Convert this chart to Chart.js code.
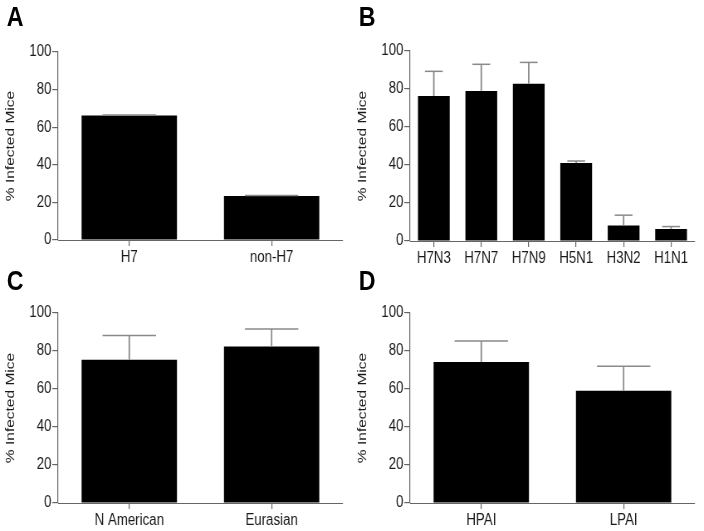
<!DOCTYPE html>
<html>
<head>
<meta charset="utf-8">
<script src="https://cdn.jsdelivr.net/npm/chart.js@4.4.1/dist/chart.umd.min.js"></script>
<style>
  body { margin: 0; background: #fff; }
  #wrap { position: relative; width: 704px; height: 531px; overflow: hidden; }
  /* the source figure is squeezed horizontally, so each panel is drawn wide and scaled */
  .panel { position: absolute; width: 424px; transform: scaleX(0.83); transform-origin: 0 0; }
  .panel canvas { position: absolute; left: 0; top: 0; }
  .tag { position: absolute; left: 8px; font: bold 28px "Liberation Sans", Arial, sans-serif; line-height: 28px; color: #000; }
</style>
</head>
<body>
<div id="wrap">
  <div class="panel" style="left:0;top:0;height:265px">
    <canvas id="cA" width="424" height="265"></canvas>
    <div class="tag" style="top:3px">A</div>
  </div>
  <div class="panel" style="left:352px;top:0;height:265px">
    <canvas id="cB" width="424" height="265"></canvas>
    <div class="tag" style="top:3px">B</div>
  </div>
  <div class="panel" style="left:0;top:265px;height:266px">
    <canvas id="cC" width="424" height="266"></canvas>
    <div class="tag" style="top:2px">C</div>
  </div>
  <div class="panel" style="left:352px;top:265px;height:266px">
    <canvas id="cD" width="424" height="266"></canvas>
    <div class="tag" style="top:2px">D</div>
  </div>
</div>
<script>
// panel A: H7 vs non-H7
const labelsA = ["H7", "non-H7"];
const valuesA = [66.2, 23.4];
const errorsA = [0.3, 0.3];

// panel B: subtypes
const labelsB = ["H7N3", "H7N7", "H7N9", "H5N1", "H3N2", "H1N1"];
const valuesB = [76.3, 79.0, 82.8, 41.0, 8.2, 6.3];
const errorsB = [13.0, 14.0, 11.2, 1.1, 5.4, 1.3];

// panel C: lineage
const labelsC = ["N American", "Eurasian"];
const valuesC = [75.4, 82.4];
const errorsC = [12.7, 9.2];

// panel D: pathogenicity
const labelsD = ["HPAI", "LPAI"];
const valuesD = [74.2, 59.1];
const errorsD = [11.1, 12.9];

const yTicks = [0, 20, 40, 60, 80, 100];

const FONT = "'Liberation Sans', Arial, sans-serif";
const AXIS = "#666";
const TEXT = "#1a1a1a";

// draws the upward error bars on top of each bar
const errorBars = {
    id: "errorBars",
    afterDatasetsDraw(chart) {
        const ds = chart.data.datasets[0];
        const meta = chart.getDatasetMeta(0);
        const y = chart.scales.y;
        const ctx = chart.ctx;
        ctx.save();
        ctx.strokeStyle = "#8a8a8a";
        meta.data.forEach((bar, i) => {
            const top = y.getPixelForValue(ds.data[i] + ds.errors[i]);
            const half = bar.width * 0.28;
            ctx.lineWidth = 1.8;
            ctx.beginPath();
            ctx.moveTo(bar.x, bar.y);
            ctx.lineTo(bar.x, top);
            ctx.stroke();
            ctx.lineWidth = 1.5;
            ctx.beginPath();
            ctx.moveTo(bar.x - half, top);
            ctx.lineTo(bar.x + half, top);
            ctx.stroke();
        });
        ctx.restore();
    }
};

function makeChart(id, labels, values, errors, padTop, xHeight) {
    return new Chart(document.getElementById(id), {
        type: "bar",
        data: {
            labels: labels,
            datasets: [{
                data: values,
                errors: errors,
                backgroundColor: "#000",
                borderWidth: 0,
                barPercentage: 0.67,
                categoryPercentage: 1
            }]
        },
        options: {
            responsive: false,
            animation: false,
            layout: { padding: { top: padTop, right: 11, bottom: 0, left: 0 } },
            plugins: { legend: { display: false }, tooltip: { enabled: false } },
            scales: {
                x: {
                    grid: { display: true, drawOnChartArea: false, offset: false, color: AXIS, lineWidth: 1.2, tickLength: 6 },
                    border: { color: AXIS, width: 1 },
                    ticks: { color: TEXT, padding: 2, font: { family: FONT, size: 16 } },
                    afterFit: s => { s.height = xHeight; }
                },
                y: {
                    min: 0,
                    max: 100,
                    afterBuildTicks: s => { s.ticks = yTicks.map(v => ({ value: v })); },
                    grid: { display: true, drawOnChartArea: false, color: AXIS, lineWidth: 1.2, tickLength: 7 },
                    border: { color: AXIS, width: 1.2 },
                    ticks: { color: TEXT, padding: 1, font: { family: FONT, size: 16 } },
                    title: { display: true, text: "% Infected Mice", color: TEXT, font: { family: FONT, size: 15.5 }, padding: { top: 3, bottom: 4 } },
                    afterFit: s => { s.width = 70; }
                }
            }
        },
        plugins: [errorBars]
    });
}

makeChart("cA", labelsA, valuesA, errorsA, 52, 25);
makeChart("cB", labelsB, valuesB, errorsB, 51, 24);
makeChart("cC", labelsC, valuesC, errorsC, 48, 28);
makeChart("cD", labelsD, valuesD, errorsD, 48, 28);
</script>
</body>
</html>
